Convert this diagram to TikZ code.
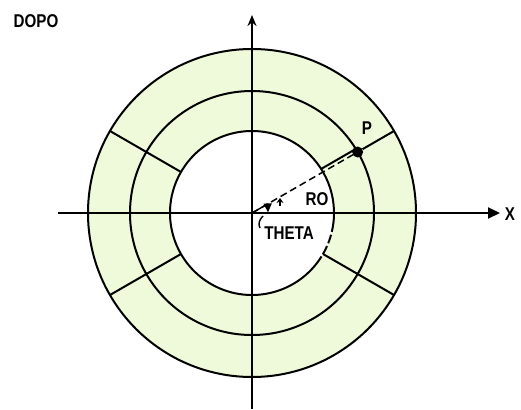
\documentclass[tikz,border=0pt]{standalone}
\usepackage{fontspec}
\setmainfont{Liberation Sans}[FakeStretch=0.82]
\usetikzlibrary{arrows.meta}
\definecolor{ringfill}{HTML}{EFFADA}
\tikzset{
  ring/.style={draw=black, line width=2pt},
  spoke/.style={draw=black, line width=2pt},
  axis/.style={draw=black, line width=2pt},
  lbl/.style={font=\fontsize{18.5}{18.5}\selectfont\bfseries, inner sep=0pt},
  dot/.style={circle, fill=black, inner sep=0pt, minimum size=11pt},
  rodash/.style={draw=black, line width=1.5pt, dash pattern=on 7pt off 4pt},
}
\begin{document}
\begin{tikzpicture}[x=1pt,y=-1pt]
\useasboundingbox (0,0) rectangle (521,409);
\fill[white] (0,0) rectangle (521,409);
\coordinate (O) at (252,213);
% ring fill
\fill[ringfill, even odd rule] (O) circle[radius=164] (O) circle[radius=82];
% circles
\draw[ring] (O) circle[radius=164];
\draw[ring] (O) circle[radius=122];
\draw[ring] ([shift={(32:82)}]O) arc[start angle=32, end angle=367, radius=82];
\draw[ring, dash pattern=on 9pt off 3pt] ([shift={(7:82)}]O) arc[start angle=7, end angle=32, radius=82];
% spokes
\draw[spoke] ([shift={(150:82)}]O) -- ([shift={(150:164)}]O);
\draw[spoke] ([shift={(210:82)}]O) -- ([shift={(210:164)}]O);
\draw[spoke] ([shift={(30:82)}]O) -- ([shift={(30:164)}]O);
% point P
\node[dot] (P) at ([shift={(-30:122)}]O) {};
\draw[spoke] (P) -- ([shift={(-30:164)}]O);
\draw[spoke] ([shift={(-30:82)},shift={(-1.8,-3.1)}]O) -- ([shift={(-1.8,-3.1)}]P.center);
\draw[rodash] (O) -- (P.center);
% axes
\coordinate (xs) at (58,213);
\coordinate (xe) at (500,213);
\coordinate (ys) at (252,409);
\coordinate (ye) at (252,15);
\draw[axis, -{Triangle[length=12pt,width=11pt]}] (xs) -- (xe);
\draw[axis, -{Stealth[length=11pt,width=9pt]}] (ys) -- (ye);
% theta marker
\draw[line width=1.4pt] (O) -- ([shift={(-30:16)}]O);
\draw[line width=1.4pt, -{Triangle[length=9pt,width=8pt]}] ([shift={(-30:16)}]O) arc[start angle=-30, end angle=-2, radius=16];
\draw[line width=1.4pt] (263,216) .. controls (259,220) and (258,224) .. (260,228);
% RO tick
\draw[line width=1.4pt, -{Stealth[length=5pt,width=7pt]}] (280,206) -- (280,198);
% labels
\node[lbl] (dopo) at (36,21) {DOPO};
\node[lbl] (plbl) at (367,128) {P};
\node[lbl] (ro) at (317,199) {RO};
\node[lbl] (theta) at (289,233) {THETA};
\node[lbl] (xl) at (510,214) {X};
\end{tikzpicture}
\end{document}
